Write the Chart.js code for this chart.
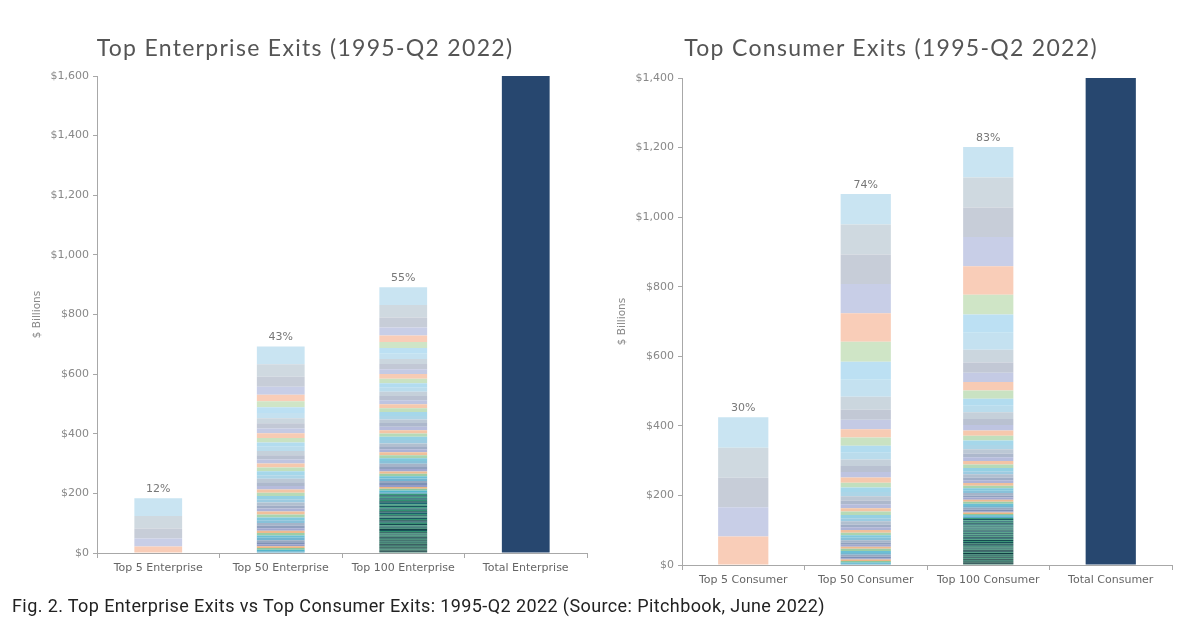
<!DOCTYPE html>
<html><head><meta charset="utf-8">
<script src="https://cdn.jsdelivr.net/npm/chart.js@4.4.1/dist/chart.umd.min.js"></script>
<style>
html,body{margin:0;padding:0;background:#fff;width:1200px;height:641px;overflow:hidden;position:relative;}
.wrap{position:absolute;top:0;width:600px;height:600px;}
.title{position:absolute;top:33px;width:600px;text-align:center;font-family:Lato,"DejaVu Sans",sans-serif;font-size:23px;color:#555;letter-spacing:1.3px;white-space:nowrap;}
#caption{position:absolute;left:12px;top:595px;font-family:Roboto,sans-serif;font-size:18px;letter-spacing:0.4px;color:#222;white-space:nowrap;z-index:5;}
</style>
</head><body>
<div class="wrap" style="left:0"><canvas id="ent" width="600" height="600"></canvas></div>
<div class="wrap" style="left:600px"><canvas id="con" width="600" height="600"></canvas></div>
<div class="title" id="t1" style="left:5px">Top Enterprise Exits (1995-Q2 2022)</div>
<div class="title" id="t2" style="left:591px">Top Consumer Exits (1995-Q2 2022)</div>
<div id="caption">Fig. 2. Top Enterprise Exits vs Top Consumer Exits: 1995-Q2 2022 (Source: Pitchbook, June 2022)</div>
<script>
// ---- Data ($ billions) ----
const entCategories = ['Top 5 Enterprise','Top 50 Enterprise','Top 100 Enterprise','Total Enterprise'];
const conCategories = ['Top 5 Consumer','Top 50 Consumer','Top 100 Consumer','Total Consumer'];

const entTop5 = [60,42,33,27,22];
const entRank6to50 = [20,19,18,17,17,16,16,15,15,14, 14,14,14,13,13,13,12,12,12,12, 11,11,11,11,10,10,10,10,10,9, 9,9,9,8,8,8,8,8,7,7, 6,6,6,6,5];
const entRank51to100 = [5,5,5,5,5,5,5,4.8,4.8,4.8, 4.6,4.6,4.5,4.5,4.4,4.4,4.3,4.3,4.2,4.2, 4.1,4.1,4,4,4,3.9,3.9,3.8,3.8,3.8, 3.7,3.7,3.6,3.6,3.5,3.5,3.5,3.4,3.4,3.3, 3.3,3.2,3.2,3.1,3.1,3,3,3,2.9,2.9];
const entTotal = 1600;
const entPctLabels = ['12%','43%','55%',''];

const conTop5 = [88,86,85,84,82];
const conRank6to50 = [57,52,49,37,29,27,24,24, 20,19,19,17,16,15,14,13,12, 12,11,11,10,10, 9,9,9,8,8,8, 7,7,7,7, 6,6,6,6,6, 5,5,5,4,4,4, 4,3.5];
const conRank51to100 = [3.2,3.2,3.1,3.1,3,3,3,2.9,2.9,2.9, 2.8,2.8,2.8,2.8,2.8,2.8,2.8,2.8,2.8,2.8, 2.7,2.7,2.7,2.7,2.7,2.7,2.7,2.7,2.7,2.7, 2.6,2.6,2.6,2.6,2.6,2.6,2.6,2.6,2.6,2.6, 2.4,2.4,2.4,2.4,2.4,2.4,2.4,2.4,2.4,2.4];
const conTotal = 1400;
const conPctLabels = ['30%','74%','83%',''];

const entYTicks = [0,200,400,600,800,1000,1200,1400,1600];
const conYTicks = [0,200,400,600,800,1000,1200,1400];

// ---- Styles ----
const pastel  = ['#c9e4f2','#cfd9e0','#c8cdd8','#c9cfe7','#f9cdb9','#d1e6c7','#c0e2f4'];
const mid     = ['#5aa8c8','#8a9cb8','#6f86b0','#8d95c4','#e8b27e','#86c49a','#4fb4c9'];
const midDark = ['#1f6f7c','#3a9a7a','#1a5a66','#4aa88a','#205e6e','#2f8f70','#17535a'];
const dark    = ['#103c3e','#2e8a68','#0f3436','#2a7f62','#124246','#34946e','#0d3233'];
function h2r(h){return [parseInt(h.slice(1,3),16),parseInt(h.slice(3,5),16),parseInt(h.slice(5,7),16)];}
function mix(a,b,t){const A=h2r(a),B=h2r(b);return 'rgb('+A.map((v,i)=>Math.round(v+(B[i]-v)*t)).join(',')+')';}
function rankColor(r){
  const k=(r-1)%7;
  if(r<=50){const t=Math.pow((r-1)/49,1.6);return mix(pastel[k],mid[k],t);}
  const t=(r-51)/49;return mix(midDark[k],dark[k],t);
}
const navy = '#27476f';
const axisColor = '#a8a8a8';
const FONT = '"DejaVu Sans", sans-serif';

const pctPlugin = {
  id:'pct',
  afterDatasetsDraw(chart, args, opts){
    const ctx=chart.ctx, xs=chart.scales.x, ys=chart.scales.y;
    ctx.save();
    ctx.font='11px '+FONT; ctx.fillStyle='#777'; ctx.textAlign='center'; ctx.textBaseline='middle';
    opts.labels.forEach((lab,i)=>{
      if(!lab) return;
      let s=0; chart.data.datasets.forEach(d=>{const v=d.data[i]; if(v) s+=v;});
      ctx.fillText(lab, xs.getPixelForValue(i), ys.getPixelForValue(s)-9);
    });
    ctx.restore();
  }
};

function build(id, cats, top5, r650, r51100, total, pct, yTicks, pad, yWidth, bp){
  const all=[...top5,...r650,...r51100];
  const ds=[];
  for(let r=all.length;r>=1;r--){
    const v=all[r-1];
    ds.push({data:[r<=5?v:null, r<=50?v:null, v, null], backgroundColor:rankColor(r), borderWidth:0, barPercentage:bp, categoryPercentage:1, stack:'s'});
  }
  ds.push({data:[null,null,null,total], backgroundColor:navy, borderWidth:0, barPercentage:bp, categoryPercentage:1, stack:'s'});
  return new Chart(document.getElementById(id),{
    type:'bar',
    data:{labels:cats, datasets:ds},
    plugins:[pctPlugin],
    options:{
      responsive:false, animation:false,
      layout:{padding:pad},
      plugins:{legend:{display:false}, tooltip:{enabled:false}, title:{display:false}, pct:{labels:pct}},
      scales:{
        x:{stacked:true, offset:true,
           grid:{display:true, drawOnChartArea:false, drawTicks:true, tickLength:5, offset:true, color:axisColor},
           border:{display:true, color:axisColor},
           ticks:{font:{family:FONT,size:11}, color:'#666', padding:4, maxRotation:0, autoSkip:false},
           afterFit(s){s.height=30;}},
        y:{stacked:true, min:0, max:yTicks[yTicks.length-1],
           afterBuildTicks(s){s.ticks=yTicks.map(v=>({value:v}));},
           grid:{display:true, drawOnChartArea:false, drawTicks:true, tickLength:4, color:axisColor},
           border:{display:true, color:axisColor},
           ticks:{font:{family:FONT,size:11}, color:'#888', padding:4, callback:v=>'$'+v.toLocaleString('en-US')},
           title:{display:true, text:'$ Billions', font:{family:FONT,size:10.5}, color:'#888', padding:{top:0,bottom:4}},
           afterFit(s){s.width=yWidth;}}
      }
    }
  });
}
build('ent', entCategories, entTop5, entRank6to50, entRank51to100, entTotal, entPctLabels, entYTicks, {left:31,right:13,top:76,bottom:17}, 66, 0.39);
build('con', conCategories, conTop5, conRank6to50, conRank51to100, conTotal, conPctLabels, conYTicks, {left:16,right:28,top:78,bottom:5}, 66, 0.41);
</script>
</body></html>
